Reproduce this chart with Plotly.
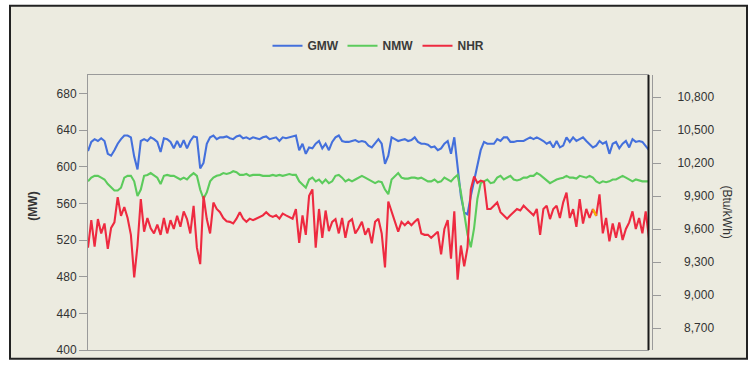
import numpy as np
import plotly.graph_objects as go

# Unit output (MW), left axis
gmw = [
    617, 627, 630, 628, 631, 628, 614, 612, 618, 625, 630, 634, 634, 632, 611, 597, 628, 630, 628, 632,
    630, 627, 616, 631, 630, 627, 620, 628, 621, 629, 620, 628, 633, 632,
    598, 604, 625, 632, 634, 630, 632, 632, 633, 631, 630, 633, 634, 631, 632, 630, 632, 631, 630, 632,
    633, 630, 631, 632, 628, 632, 631, 632, 633, 634, 618, 625, 614, 621,
    620, 625, 628, 620, 625, 618, 627, 632, 634, 628, 627, 627, 628, 629, 627, 628, 627, 623, 621, 625,
    630, 625, 603, 612, 632, 630, 628, 629, 630, 628, 629, 632, 627, 625,
    625, 624, 621, 622, 618, 620, 625, 628, 614, 632, 600, 568, 550, 548, 568, 586, 604, 618, 627, 625,
    625, 625, 630, 628, 632, 632, 627, 627, 628, 628, 628, 630, 632, 630,
    632, 630, 628, 625, 627, 621, 628, 621, 623, 632, 627, 632, 628, 630, 632, 628, 625, 621, 623, 628,
    625, 627, 614, 625, 627, 620, 625, 628, 621, 630, 627, 628, 627, 623, 618,
]

nmw = [
    584, 588, 590, 590, 588, 586, 581, 577, 574, 574, 577, 588, 590, 590, 584, 568, 575, 590, 591, 593,
    590, 588, 581, 590, 591, 590, 590, 588, 586, 588, 586, 590, 593, 590,
    575, 565, 572, 584, 588, 590, 591, 593, 592, 593, 595, 594, 591, 591, 592, 590, 591, 591, 591, 590,
    590, 590, 591, 590, 591, 590, 591, 592, 591, 591, 584, 581, 577, 586,
    588, 584, 586, 582, 586, 582, 584, 590, 591, 588, 584, 586, 584, 586, 588, 590, 588, 586, 584, 582,
    584, 583, 575, 570, 586, 590, 593, 588, 587, 587, 588, 588, 587, 588,
    586, 584, 584, 586, 583, 584, 588, 586, 584, 588, 591, 572, 550, 526, 512, 533, 565, 582, 584, 586,
    582, 583, 588, 590, 586, 588, 590, 586, 585, 586, 588, 588, 590, 590,
    593, 591, 588, 584, 582, 584, 586, 587, 588, 590, 588, 588, 587, 590, 589, 588, 590, 588, 584, 582,
    584, 583, 584, 586, 586, 588, 590, 588, 586, 584, 586, 585, 584, 584, 584,
]

# Net heat rate (Btu/kWh), right axis
nhr = [
    9430, 9680, 9440, 9690, 9560, 9650, 9420, 9610, 9660, 9890, 9720, 9800, 9700, 9547, 9160, 9450, 9871, 9576, 9700, 9606,
    9560, 9640, 9547, 9700, 9560, 9680, 9600, 9720, 9620, 9760, 9690, 9560, 9810, 9430,
    9281, 9900, 9690, 9560, 9840, 9782, 9753, 9700, 9670, 9665, 9650, 9694, 9753, 9694, 9665, 9694, 9680, 9694, 9710, 9724,
    9753, 9724, 9710, 9724, 9694, 9740, 9724, 9710, 9694, 9780, 9473, 9724, 9547, 9901,
    9960, 9430, 9782, 9520, 9768, 9580, 9665, 9690, 9560, 9700, 9520, 9665, 9690, 9560, 9606, 9665, 9547, 9606, 9470, 9665,
    9694, 9560, 9251, 9850, 9753, 9665, 9576, 9665, 9635, 9665, 9635, 9665, 9694, 9560,
    9547, 9547, 9520, 9547, 9576, 9370, 9600, 9680, 9330, 9760, 9140, 9450, 9260, 9430, 9960, 10078, 10019, 10040, 10030, 9782,
    9782, 9812, 9842, 9753, 9724, 9694, 9724, 9753, 9782, 9768, 9812, 9782, 9753, 9724,
    9782, 9547, 9782, 9812, 9690, 9782, 9812, 9700, 9842, 9930, 9700, 9780, 9620, 9871, 9650, 9782, 9700, 9780, 9720, 9915,
    9560, 9700, 9488, 9650, 9520, 9660, 9500, 9600, 9660, 9760, 9600, 9700, 9560, 9760, 9517,
]

# Samples flagged in the heat-rate record
flag_idx = [153, 154]

left_ticks = [400, 440, 480, 520, 560, 600, 640, 680]
right_ticks = [8700, 9000, 9300, 9600, 9900, 10200, 10500, 10800]

W, H = 750, 368
ML, MR, MT, MB = 88, 98, 75, 11
PW, PH = W - ML - MR, H - MT - MB


def px(x):
    return (x - ML) / PW


def py(y):
    return (H - MB - y) / PH


t = np.arange(len(gmw))
flag_t = np.array(flag_idx)
flag_v = [nhr[i] for i in flag_idx]

FONT = "Liberation Sans, Arial, sans-serif"
BLUE, GREEN, RED, ORANGE = "#4470dc", "#5ccb5c", "#ee2a40", "#f5b800"
AXIS = "#9a9a9a"
LW = 2.1

fig = go.Figure()
fig.add_trace(go.Scatter(x=t, y=gmw, name="GMW", mode="lines",
                         line=dict(color=BLUE, width=LW)))
fig.add_trace(go.Scatter(x=t, y=nmw, name="NMW", mode="lines",
                         line=dict(color=GREEN, width=LW)))
fig.add_trace(go.Scatter(x=t, y=nhr, name="NHR", mode="lines", yaxis="y2",
                         line=dict(color=RED, width=LW)))
fig.add_trace(go.Scatter(x=flag_t, y=flag_v, mode="lines", yaxis="y2", showlegend=False,
                         line=dict(color=ORANGE, width=LW)))

# right labels padded with a figure space so they line up on the right
right_text = [("\u2007" if v < 10000 else "") + f"{v:,}" for v in right_ticks]

fig.update_layout(
    width=W, height=H,
    margin=dict(l=ML, r=MR, t=MT, b=MB, pad=0),
    paper_bgcolor="white",
    plot_bgcolor="#fbfbfb",
    font=dict(family=FONT, size=12, color="#333333"),
    showlegend=True,
    legend=dict(orientation="h", x=px(380), y=py(45), xanchor="center", yanchor="middle",
                bgcolor="rgba(0,0,0,0)", font=dict(family=FONT, size=12, color="#3a3a3a", weight="bold"),
                entrywidth=30, itemwidth=30, tracegroupgap=0),
    xaxis=dict(domain=[0, (649 - ML) / PW], range=[0, len(gmw) - 1], showticklabels=False,
               ticks="", showgrid=False, zeroline=False, showline=True, mirror=True,
               linecolor=AXIS, linewidth=1),
    yaxis=dict(range=[400, 700], tickvals=left_ticks, ticks="outside", ticklen=8,
               tickcolor=AXIS, showgrid=False, zeroline=False, showline=True,
               linecolor=AXIS, linewidth=1, tickfont=dict(size=12, color="#333333")),
    yaxis2=dict(range=[8500, 11000], tickvals=right_ticks, ticktext=right_text,
                overlaying="y", side="right", anchor="free", position=1,
                ticks="outside", ticklen=8, tickcolor=AXIS, showgrid=False,
                zeroline=False, showline=True, linecolor=AXIS, linewidth=1,
                ticklabelstandoff=14, tickfont=dict(size=12, color="#333333")),
)

# framed beige panel behind the chart
fig.add_shape(type="rect", xref="paper", yref="paper",
              x0=px(10), x1=px(747), y0=py(366), y1=py(4),
              line=dict(color="#222222", width=2), fillcolor="#ecebe0", layer="below")
# dark edge on the right side of the plotting area
fig.add_shape(type="line", xref="paper", yref="paper",
              x0=px(648.5), x1=px(648.5), y0=0, y1=1,
              line=dict(color="#1a1a1a", width=2))

fig.add_annotation(text="(MW)", xref="paper", yref="paper", x=px(33), y=py(210),
                   xanchor="center", yanchor="middle",
                   showarrow=False, textangle=-90, font=dict(size=12, color="#333333", weight="bold"))
fig.add_annotation(text="(Btu/kWh)", xref="paper", yref="paper", x=px(727), y=py(215),
                   xanchor="center", yanchor="middle",
                   showarrow=False, textangle=90, font=dict(size=12, color="#333333"))

fig.write_html("out.html")
